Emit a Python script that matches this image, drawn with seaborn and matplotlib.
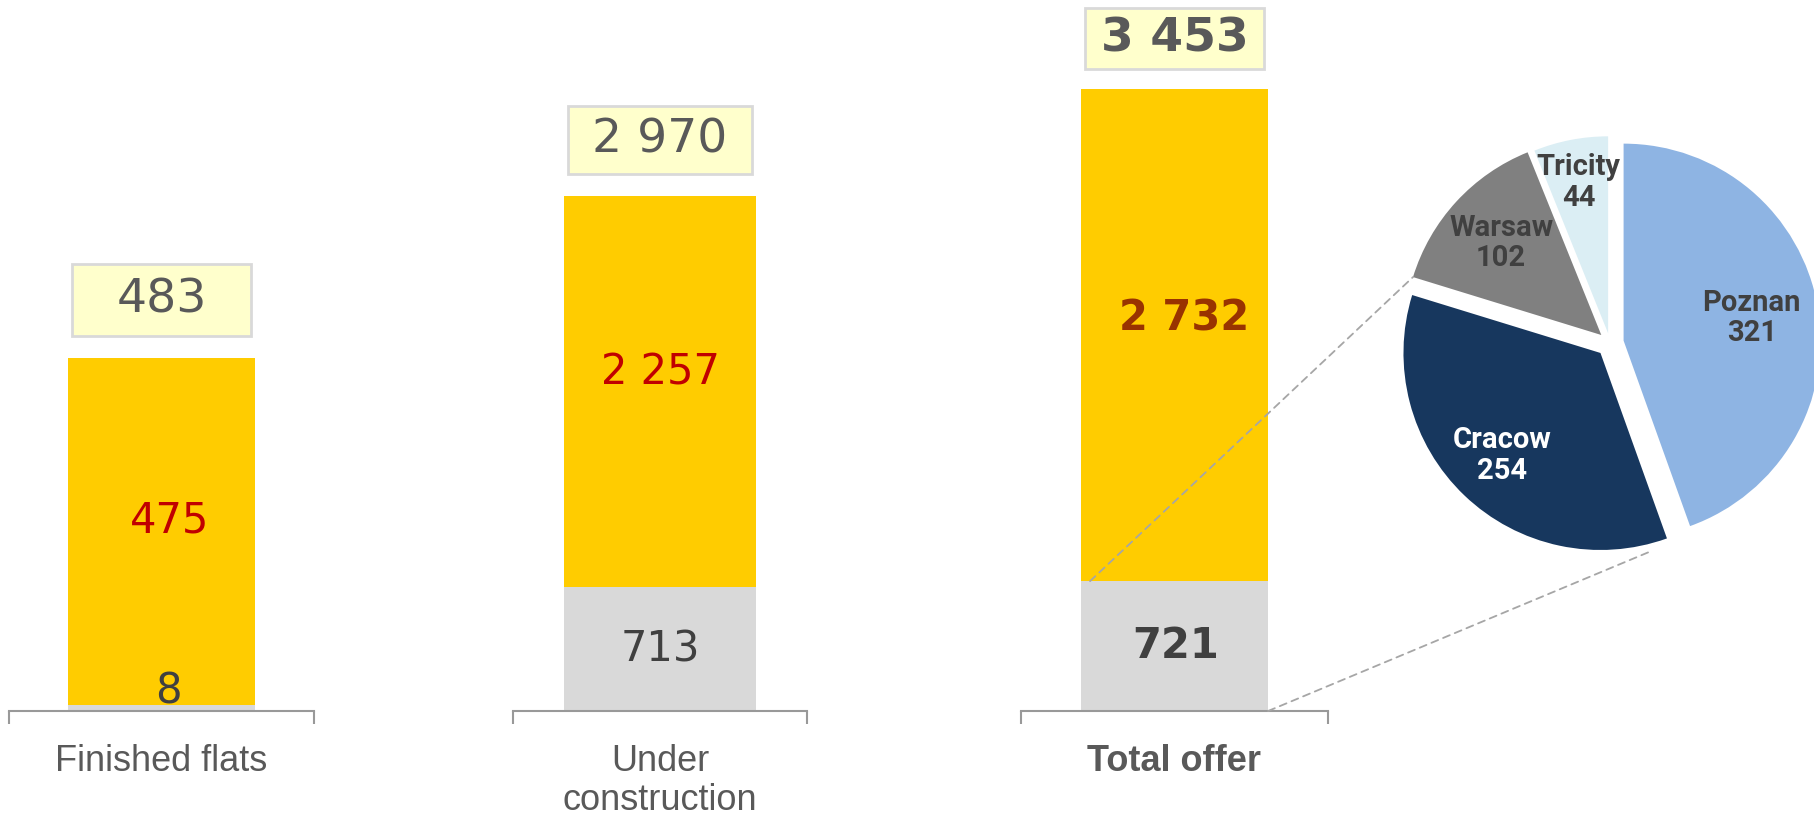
import matplotlib
matplotlib.use("Agg")
import numpy as np
import pandas as pd
import matplotlib.pyplot as plt
from matplotlib.patches import Rectangle, ConnectionPatch
from matplotlib import transforms
import seaborn as sns

# Offer structure: ready (grey) and remaining (yellow) flats per stage
categories = ["Finished flats", "Under\nconstruction", "Total offer"]
ready_flats = [8, 713, 721]
pending_flats = [475, 2257, 2732]

# Split of the 721 ready flats by city
cities = ["Poznan", "Cracow", "Warsaw", "Tricity"]
city_flats = [321, 254, 102, 44]


def fmt(v):
    return f"{v:,}".replace(",", " ")


df = pd.DataFrame({"category": categories, "ready": ready_flats, "pending": pending_flats})
df["total"] = df["ready"] + df["pending"]

sns.set_style("white")
plt.rcParams["font.family"] = ["DejaVu Sans"]

W, H, DPI = 1815, 818, 100
fig = plt.figure(figsize=(W / DPI, H / DPI), dpi=DPI)

YELLOW = "#FFCC00"
GREY = "#D9D9D9"
BOX_FILL = "#FFFFCC"
BOX_EDGE = "#D9D9D9"
TEXT_GREY = "#595959"
DARK = "#404040"
BRACKET = "#999999"

BASE = 711  # baseline, pixels from top
panels = [
    dict(left=9, width=305, bar_px=353, bar_w=0.61, box_gap=22, box_h=72, bold=False,
         top_color="#C00000", top_off=(6, 8), bot_off=(5, 12)),
    dict(left=513, width=294, bar_px=515, bar_w=0.65, box_gap=22, box_h=68, bold=False,
         top_color="#C00000", top_off=(0, 14), bot_off=(0, 0)),
    dict(left=1021, width=307, bar_px=622, bar_w=0.61, box_gap=20, box_h=61, bold=True,
         top_color="#993300", top_off=(7, 12), bot_off=(1, 0)),
]

bar_axes = []
for i, p in enumerate(panels):
    row = df.iloc[[i]]
    ax = fig.add_axes([p["left"] / W, (H - BASE) / H, p["width"] / W, BASE / H])
    ax.patch.set_alpha(0)
    total = row["total"].iloc[0]
    ready = row["ready"].iloc[0]
    pending = row["pending"].iloc[0]
    ytop = total * BASE / p["bar_px"]

    sns.barplot(data=row, x="category", y="total", color=YELLOW, saturation=1,
                width=p["bar_w"], linewidth=0, ax=ax)
    sns.barplot(data=row, x="category", y="ready", color=GREY, saturation=1,
                width=p["bar_w"], linewidth=0, ax=ax)
    ax.set_xlim(-0.5, 0.5)
    ax.set_ylim(0, ytop)
    ax.set_xlabel("")
    ax.set_ylabel("")
    ax.set_yticks([])
    for s in ("left", "top", "right"):
        ax.spines[s].set_visible(False)
    ax.spines["bottom"].set_color(BRACKET)
    ax.spines["bottom"].set_linewidth(1.5)

    # bracket end ticks and category label
    ax.set_xticks([0])
    ax.set_xticklabels([row["category"].iloc[0]], fontsize=26, color=TEXT_GREY,
                       family="Liberation Sans", fontweight="bold" if p["bold"] else "normal",
                       linespacing=1.12)
    ax.set_xticks([-0.5, 0.5], minor=True)
    ax.tick_params(axis="x", which="major", length=0, pad=24)
    ax.tick_params(axis="x", which="minor", length=9, width=1.5, color=BRACKET, bottom=True)

    weight = "bold" if p["bold"] else "normal"
    # segment labels
    ax.annotate(fmt(pending), (0, ready + pending / 2), xytext=p["top_off"],
                textcoords="offset points", ha="center", va="center",
                fontsize=30, color=p["top_color"], fontweight=weight)
    ax.annotate(fmt(ready), (0, ready / 2), xytext=p["bot_off"],
                textcoords="offset points", ha="center", va="center",
                fontsize=30, color=DARK, fontweight=weight)

    # total value box above the bar
    trans = transforms.blended_transform_factory(ax.transData, ax.transAxes)
    bw = p["bar_w"] * 0.96
    y0 = total / ytop + p["box_gap"] / BASE
    bh = p["box_h"] / BASE
    ax.add_patch(Rectangle((-bw / 2, y0), bw, bh, transform=trans, facecolor=BOX_FILL,
                           edgecolor=BOX_EDGE, linewidth=2, clip_on=False, zorder=5))
    ax.text(0, y0 + bh / 2, fmt(total), transform=trans, ha="center", va="center",
            fontsize=34, color=TEXT_GREY, fontweight=weight, zorder=6)
    bar_axes.append(ax)

# City pie
CX, CY, R_PX, LIM = 1610, 343, 197, 1.25
side = 2 * LIM * R_PX
ax_pie = fig.add_axes([(CX - side / 2) / W, (H - CY - side / 2) / H, side / W, side / H])
pie_colors = ["#8EB4E3", "#17375E", "#808080", "#DBEEF4"]
wedges, _ = ax_pie.pie(city_flats, colors=pie_colors, startangle=90, counterclock=False,
                       explode=[0.07, 0.07, 0.06, 0.05], radius=1,
                       wedgeprops=dict(linewidth=0))
ax_pie.set_xlim(-LIM, LIM)
ax_pie.set_ylim(-LIM, LIM)
ax_pie.set_aspect("equal")
ax_pie.axis("off")

label_r = [0.73, 0.79, 0.75, 0.83]
label_colors = [DARK, "white", DARK, DARK]
for w, name, val, r, c in zip(wedges, cities, city_flats, label_r, label_colors):
    mid = np.deg2rad((w.theta1 + w.theta2) / 2)
    ax_pie.text(r * np.cos(mid), r * np.sin(mid), f"{name}\n{val}", ha="center", va="center",
                fontsize=21, fontweight="bold", color=c, linespacing=1.1,
                family=["Roboto", "DejaVu Sans"])

# dashed connectors from the ready segment of the total bar to the pie
ax3 = bar_axes[2]
w3 = panels[2]["bar_w"]
warsaw, cracow = wedges[2], wedges[1]
a_up = np.deg2rad(warsaw.theta2)
up_pt = (warsaw.center[0] + np.cos(a_up), warsaw.center[1] + np.sin(a_up))
a_lo = np.deg2rad(cracow.theta2 - 6)
lo_pt = (cracow.center[0] + 1.04 * np.cos(a_lo), cracow.center[1] + 1.04 * np.sin(a_lo))
for start, end in [((-w3 / 2 + 0.03, ready_flats[2]), up_pt), ((w3 / 2, 0), lo_pt)]:
    con = ConnectionPatch(xyA=start, coordsA=ax3.transData, xyB=end, coordsB=ax_pie.transData,
                          color="#A6A6A6", linewidth=1.3, linestyle=(0, (4, 3)), zorder=10)
    fig.add_artist(con)

fig.savefig("out.png", dpi=DPI)
